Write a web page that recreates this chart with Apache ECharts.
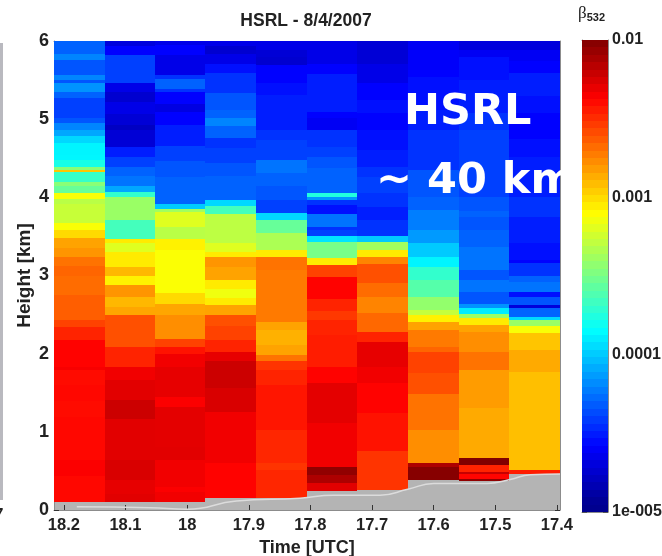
<!DOCTYPE html>
<html>
<head>
<meta charset="utf-8">
<title>HSRL - 8/4/2007</title>
<script src="https://cdn.jsdelivr.net/npm/echarts@6/dist/echarts.min.js"></script>
<style>
html,body{margin:0;padding:0;background:#fff;overflow:hidden;}
/* the source is a soft scanned-in slide image */
#myChart{width:662px;height:556px;filter:blur(0.7px);}
</style>
</head>
<body>
<div id="myChart"></div>
<script>
// every profile: [top of layer in km, log10(beta)], layer ends where the next one starts
var col182 = [[6,-4.3],[5.84,-4.2],[5.76,-4.34],[5.57,-4.2],[5.5,-4.34],[5.46,-4.16],[5.35,-4.3],[5.27,-4.4],[5.01,-4.34],[4.95,-4.2],[4.86,-4.1],[4.78,-3.96],[4.69,-3.875],[4.54,-3.87],[4.48,-3.78],[4.39,-3.45],[4.35,-2.94],[4.32,-3.69],[4.2,-3.45],[4.14,-3.55],[4.05,-3.125],[3.98,-3.31],[3.92,-3.27],[3.67,-3.125],[3.58,-3.0],[3.48,-2.84],[3.35,-2.8],[3.24,-2.7],[3.12,-2.66],[3.0,-2.68],[2.75,-2.64],[2.43,-2.56],[2.34,-2.47],[2.17,-2.375],[1.83,-2.35],[1.79,-2.4],[1.6,-2.39],[1.39,-2.4],[1.19,-2.39],[0.64,-2.36],[0.43,-2.39]];
var col181 = [[6,-4.7],[5.93,-4.58],[5.82,-4.4],[5.46,-4.66],[5.35,-4.74],[5.22,-4.66],[5.07,-4.72],[4.92,-4.78],[4.86,-4.72],[4.65,-4.5],[4.52,-4.4],[4.39,-4.3],[4.27,-4.25],[4.14,-4.1],[4.07,-3.7],[4.01,-3.4],[3.71,-3.65],[3.47,-3.05],[3.41,-3.2],[3.3,-3.05],[3.11,-2.9],[3.0,-3.07],[2.88,-2.8],[2.73,-2.9],[2.6,-2.85],[2.49,-2.6],[2.08,-2.47],[1.83,-2.33],[1.66,-2.285],[1.41,-2.22],[1.17,-2.285],[0.64,-2.26],[0.38,-2.3],[0.21,-2.285]];
var col180 = [[6,-4.66],[5.95,-4.58],[5.82,-4.66],[5.57,-4.44],[5.52,-4.3],[5.39,-4.44],[5.35,-4.58],[5.2,-4.68],[5.09,-4.58],[4.92,-4.5],[4.66,-4.4],[4.47,-4.34],[4.26,-4.3],[3.92,-4.0],[3.85,-3.38],[3.81,-3.2],[3.62,-3.31],[3.47,-3.07],[3.32,-3.12],[2.77,-3.0],[2.64,-2.85],[2.49,-2.78],[2.19,-2.56],[2.08,-2.42],[2.0,-2.33],[1.83,-2.3],[1.45,-2.36],[1.32,-2.29],[0.81,-2.285],[0.64,-2.33],[0.3,-2.36],[0.235,-2.33]];
var col179 = [[6,-4.66],[5.93,-4.74],[5.84,-4.66],[5.71,-4.54],[5.59,-4.44],[5.33,-4.34],[5.12,-4.3],[5.01,-4.2],[4.91,-4.3],[4.76,-4.44],[4.63,-4.4],[4.44,-4.34],[4.27,-4.3],[3.97,-3.96],[3.89,-3.65],[3.79,-3.3],[3.41,-3.2],[3.3,-3.05],[3.24,-2.8],[3.11,-2.84],[2.94,-3.05],[2.83,-3.15],[2.71,-3.05],[2.62,-2.84],[2.49,-2.6],[2.36,-2.56],[2.17,-2.47],[2.02,-2.3],[1.9,-2.22],[1.56,-2.26],[1.26,-2.33],[0.6,-2.375]];
var col178 = [[6,-4.66],[5.88,-4.72],[5.8,-4.74],[5.69,-4.58],[5.46,-4.54],[5.31,-4.5],[4.86,-4.44],[4.73,-4.4],[4.48,-4.25],[4.31,-4.3],[4.14,-4.34],[3.97,-4.4],[3.8,-3.96],[3.71,-3.55],[3.54,-3.35],[3.32,-3.05],[3.24,-2.7],[3.07,-2.72],[2.4,-2.84],[2.3,-2.88],[2.11,-2.84],[1.98,-2.7],[1.9,-2.52],[1.79,-2.47],[1.6,-2.43],[1.02,-2.48],[0.6,-2.52],[0.51,-2.48]];
var col177 = [[6,-4.66],[5.71,-4.58],[5.58,-4.5],[5.09,-4.58],[5.01,-4.62],[4.86,-4.44],[4.65,-4.4],[4.52,-4.34],[4.37,-4.3],[4.05,-3.75],[4.01,-4.15],[3.97,-4.44],[3.9,-4.54],[3.79,-4.25],[3.62,-4.44],[3.58,-4.4],[3.5,-3.92],[3.43,-3.5],[3.22,-3.05],[3.14,-2.56],[2.98,-2.375],[2.7,-2.47],[2.54,-2.53],[2.43,-2.47],[2.24,-2.45],[1.83,-2.375],[1.62,-2.29],[1.11,-2.33],[0.55,-2.05],[0.45,-2.13],[0.34,-2.285]];
var col176 = [[6,-4.72],[5.7,-4.66],[5.46,-4.58],[5.25,-4.54],[5.08,-4.58],[4.86,-4.54],[4.6,-4.5],[4.39,-4.44],[4.26,-4.4],[4.05,-4.44],[3.88,-4.5],[3.71,-4.44],[3.5,-4.0],[3.43,-3.38],[3.32,-3.05],[3.24,-2.75],[3.15,-2.6],[2.9,-2.68],[2.73,-2.75],[2.52,-2.67],[2.28,-2.47],[2.15,-2.3],[1.83,-2.33],[1.62,-2.375],[1.24,-2.42],[0.75,-2.52]];
var col175 = [[6,-4.62],[5.88,-4.6],[5.63,-4.58],[5.54,-4.54],[5.12,-4.5],[4.86,-4.44],[4.35,-4.34],[4.01,-4.3],[3.84,-4.22],[3.58,-4.14],[3.41,-4.0],[3.24,-3.875],[3.11,-3.7],[2.94,-3.6],[2.73,-3.42],[2.56,-3.28],[2.49,-3.07],[2.41,-2.84],[2.3,-2.72],[2.09,-2.66],[2.02,-2.56],[1.75,-2.6],[1.49,-2.7],[1.02,-2.78],[0.6,-2.13],[0.55,-2.02]];
var col174 = [[6,-4.7],[5.88,-4.62],[5.8,-4.54],[5.5,-4.5],[5.08,-4.44],[4.86,-4.4],[4.01,-4.34],[3.82,-4.3],[3.75,-4.34],[3.58,-4.3],[3.37,-4.25],[3.07,-4.34],[2.94,-4.25],[2.79,-4.34],[2.64,-4.16],[2.58,-3.9],[2.51,-3.4],[2.45,-3.05],[2.37,-2.84],[2.28,-2.78],[2.02,-2.7],[1.79,-2.82],[1.3,-2.86],[0.66,-2.0],[0.58,-2.47],[0.49,-2.2],[0.46,-2.38],[0.4,-2.05]];
var col173 = [[6,-4.7],[5.88,-4.62],[5.74,-4.58],[5.59,-4.5],[5.29,-4.54],[5.08,-4.58],[4.74,-4.54],[4.52,-4.5],[4.01,-4.44],[3.75,-4.5],[3.41,-4.54],[3.2,-4.58],[3.16,-4.44],[3.0,-4.3],[2.92,-4.25],[2.79,-4.54],[2.73,-4.34],[2.62,-4.7],[2.58,-4.3],[2.47,-3.96],[2.43,-3.4],[2.36,-3.125],[2.26,-2.94],[2.05,-2.86],[1.77,-2.92],[0.51,-2.45]];

var profiles = [col182, col181, col180, col179, col178, col177, col176, col175, col174, col173];
var columnEdges = [18.216, 18.134, 18.052, 17.971, 17.888, 17.806, 17.724, 17.642, 17.559, 17.477, 17.395];
var profileBase = [0.107, 0.107, 0.107, 0.158, 0.158, 0.247, 0.256, 0.39, 0.375, 0.46];

var surfaceTime = [18.179, 18.06, 18.0, 17.92, 17.817, 17.763, 17.687, 17.642, 17.6, 17.513, 17.476, 17.443, 17.395];
var surfaceHeight = [0.04, 0.03, 0.01, 0.115, 0.15, 0.19, 0.19, 0.265, 0.34, 0.34, 0.39, 0.45, 0.46];

var timeTicks = [18.2, 18.1, 18, 17.9, 17.8, 17.7, 17.6, 17.5, 17.4];
var barTicks = ['1e-005', '0.0001', '0.001', '0.01'];
var barLevels = [-5,-4.953,-4.906,-4.859,-4.812,-4.766,-4.719,-4.672,-4.625,-4.578,-4.531,-4.484,-4.438,-4.391,-4.344,-4.297,-4.25,-4.203,-4.156,-4.109,-4.062,-4.016,-3.969,-3.922,-3.875,-3.828,-3.781,-3.734,-3.688,-3.641,-3.594,-3.547,-3.5,-3.453,-3.406,-3.359,-3.312,-3.266,-3.219,-3.172,-3.125,-3.078,-3.031,-2.984,-2.938,-2.891,-2.844,-2.797,-2.75,-2.703,-2.656,-2.609,-2.562,-2.516,-2.469,-2.422,-2.375,-2.328,-2.281,-2.234,-2.188,-2.141,-2.094,-2.047];
var jet = ['#00008f','#0000ff','#0080ff','#00ffff','#80ff80','#ffff00','#ff8000','#ff0000','#800000'];

var textColor = '#222';
var boxColor = '#8c8c8c';
var groundColor = '#b4b4b4';
var labelFont = 'Liberation Sans';

// [x0, x1, y top, y bottom, log10 beta]
var heatData = [];
profiles.forEach(function (layers, c) {
    layers.forEach(function (layer, i) {
        var bottom = i + 1 < layers.length ? layers[i + 1][0] : profileBase[c];
        heatData.push([columnEdges[c], columnEdges[c + 1], layer[0], bottom, layer[1]]);
    });
});
var barData = barLevels.map(function (lev, i) {
    var up = i + 1 < barLevels.length ? barLevels[i + 1] : -2;
    return [0, 1, Math.pow(10, up), Math.pow(10, lev), lev + 0.0234];
});
var surfaceLine = surfaceTime.map(function (t, i) {
    return [t, surfaceHeight[i]];
});

function drawCell(params, api) {
    var a = api.coord([api.value(0), api.value(2)]);
    var b = api.coord([api.value(1), api.value(3)]);
    var x0 = Math.round(Math.min(a[0], b[0]));
    var x1 = Math.round(Math.max(a[0], b[0]));
    var y0 = Math.round(Math.min(a[1], b[1]));
    var y1 = Math.round(Math.max(a[1], b[1]));
    return {
        type: 'rect',
        shape: { x: x0, y: y0, width: x1 - x0, height: y1 - y0 },
        style: { fill: api.visual('color') }
    };
}

var timeAxis = {
    type: 'value',
    inverse: true,
    min: 17.395,
    max: 18.216,
    splitLine: { show: false },
    axisLine: { show: true, onZero: false, lineStyle: { color: boxColor, width: 1 } },
    axisTick: { show: true, inside: true, length: 5, customValues: timeTicks, lineStyle: { color: '#333' } }
};
var heightAxis = {
    type: 'value',
    min: 0,
    max: 6,
    interval: 1,
    splitLine: { show: false },
    axisLine: { show: true, onZero: false, lineStyle: { color: boxColor, width: 1 } },
    axisTick: { show: true, inside: true, length: 5, lineStyle: { color: '#333' } }
};

var option = {
    animation: false,
    backgroundColor: '#fff',
    title: {
        text: 'HSRL - 8/4/2007',
        left: 301,
        textAlign: 'center',
        top: 7,
        textStyle: { fontFamily: labelFont, fontWeight: 'bold', fontSize: 17.5, color: textColor }
    },
    grid: [
        { left: 54, top: 41, width: 506, height: 469, show: true, backgroundColor: groundColor, borderWidth: 0, outerBoundsMode: 'none' },
        { left: 582, top: 40, width: 26, height: 472, show: false, outerBoundsMode: 'none' }
    ],
    xAxis: [
        Object.assign({}, timeAxis, {
            gridIndex: 0,
            position: 'bottom',
            name: 'Time [UTC]',
            nameLocation: 'middle',
            nameGap: 28,
            nameTextStyle: { fontFamily: labelFont, fontWeight: 'bold', fontSize: 18, color: textColor },
            axisLabel: {
                show: true, margin: 7, color: textColor, fontFamily: labelFont, fontWeight: 'bold', fontSize: 16.5,
                customValues: timeTicks,
                formatter: function (v) { return String(v); }
            }
        }),
        Object.assign({}, timeAxis, { gridIndex: 0, position: 'top', axisLabel: { show: false } }),
        {
            type: 'value', gridIndex: 1, min: 0, max: 1, position: 'bottom',
            axisLine: { show: true, onZero: false, lineStyle: { color: boxColor } },
            axisTick: { show: false }, axisLabel: { show: false }, splitLine: { show: false }
        },
        {
            type: 'value', gridIndex: 1, min: 0, max: 1, position: 'top',
            axisLine: { show: true, onZero: false, lineStyle: { color: boxColor } },
            axisTick: { show: false }, axisLabel: { show: false }, splitLine: { show: false }
        }
    ],
    yAxis: [
        Object.assign({}, heightAxis, {
            gridIndex: 0,
            position: 'left',
            name: 'Height [km]',
            nameLocation: 'middle',
            nameGap: 20,
            nameMoveOverlap: false,
            nameTextStyle: { fontFamily: labelFont, fontWeight: 'bold', fontSize: 19, color: textColor },
            axisLabel: {
                show: true, margin: 5, color: textColor, fontFamily: labelFont, fontWeight: 'bold', fontSize: 18,
                verticalAlignMinLabel: 'middle', verticalAlignMaxLabel: 'middle'
            }
        }),
        Object.assign({}, heightAxis, { gridIndex: 0, position: 'right', axisLabel: { show: false } }),
        {
            type: 'log', logBase: 10, gridIndex: 1, min: 0.00001, max: 0.01, position: 'right',
            splitLine: { show: false }, minorTick: { show: false },
            axisLine: { show: true, onZero: false, lineStyle: { color: boxColor } },
            axisTick: { show: true, inside: true, length: 5, lineStyle: { color: '#555' } },
            axisLabel: {
                show: true, margin: 4, color: textColor, fontFamily: labelFont, fontWeight: 'bold', fontSize: 16,
                verticalAlignMinLabel: 'middle', verticalAlignMaxLabel: 'middle',
                formatter: function (v, i) { return barTicks[i]; }
            }
        },
        {
            type: 'log', logBase: 10, gridIndex: 1, min: 0.00001, max: 0.01, position: 'left',
            splitLine: { show: false }, minorTick: { show: false },
            axisLine: { show: true, onZero: false, lineStyle: { color: boxColor } },
            axisTick: { show: true, inside: true, length: 5, lineStyle: { color: '#555' } },
            axisLabel: { show: false }
        }
    ],
    visualMap: {
        show: false,
        type: 'continuous',
        min: -4.953,
        max: -2,
        dimension: 4,
        seriesIndex: [0, 2],
        inRange: { color: jet },
        outOfRange: { color: groundColor }
    },
    series: [
        {
            type: 'custom',
            xAxisIndex: 0,
            yAxisIndex: 0,
            coordinateSystem: 'cartesian2d',
            renderItem: drawCell,
            encode: { x: [0, 1], y: [2, 3] },
            data: heatData,
            silent: true,
            z: 1
        },
        {
            type: 'line',
            xAxisIndex: 0,
            yAxisIndex: 0,
            data: surfaceLine,
            smooth: true,
            symbol: 'none',
            lineStyle: { color: '#dcdcdc', width: 1.5 },
            silent: true,
            z: 2
        },
        {
            type: 'custom',
            xAxisIndex: 2,
            yAxisIndex: 2,
            coordinateSystem: 'cartesian2d',
            renderItem: drawCell,
            encode: { x: [0, 1], y: [2, 3] },
            data: barData,
            silent: true,
            z: 1
        }
    ],
    graphic: [
        {
            type: 'text', left: 404, top: 91, z: 20, silent: true,
            style: { text: 'HSRL', fill: '#fff', font: 'bold 43px "DejaVu Sans"' }
        },
        {
            type: 'text', left: 376, top: 160, z: 20, silent: true,
            style: { text: '~ 40 km', fill: '#fff', font: 'bold 43px "DejaVu Sans"' }
        },
        // the overlaid text stops at the plot's right edge
        {
            type: 'rect', shape: { x: 561, y: 140, width: 20, height: 80 }, z: 21, silent: true,
            style: { fill: '#fff' }
        },
        {
            type: 'text', left: 578, top: 5, z: 20, silent: true,
            style: {
                text: '{b|\u03b2}{s|532}',
                rich: {
                    b: { font: '17px "Liberation Serif"', fill: textColor },
                    s: { font: 'bold 11px "Liberation Sans"', fill: textColor, padding: [9, 0, 0, 0] }
                }
            }
        },
        // edge of the neighbouring panel, cropped by the picture
        {
            type: 'rect', shape: { x: 0, y: 43, width: 3, height: 457 }, z: 5, silent: true,
            style: { fill: '#b9b9bf' }
        },
        {
            type: 'text', left: -6, top: 507, z: 5, silent: true,
            style: { text: '7', fill: textColor, font: 'bold 17px "Liberation Sans"' }
        }
    ]
};

var myChart = echarts.init(document.getElementById('myChart'));
myChart.setOption(option);
</script>
</body>
</html>
